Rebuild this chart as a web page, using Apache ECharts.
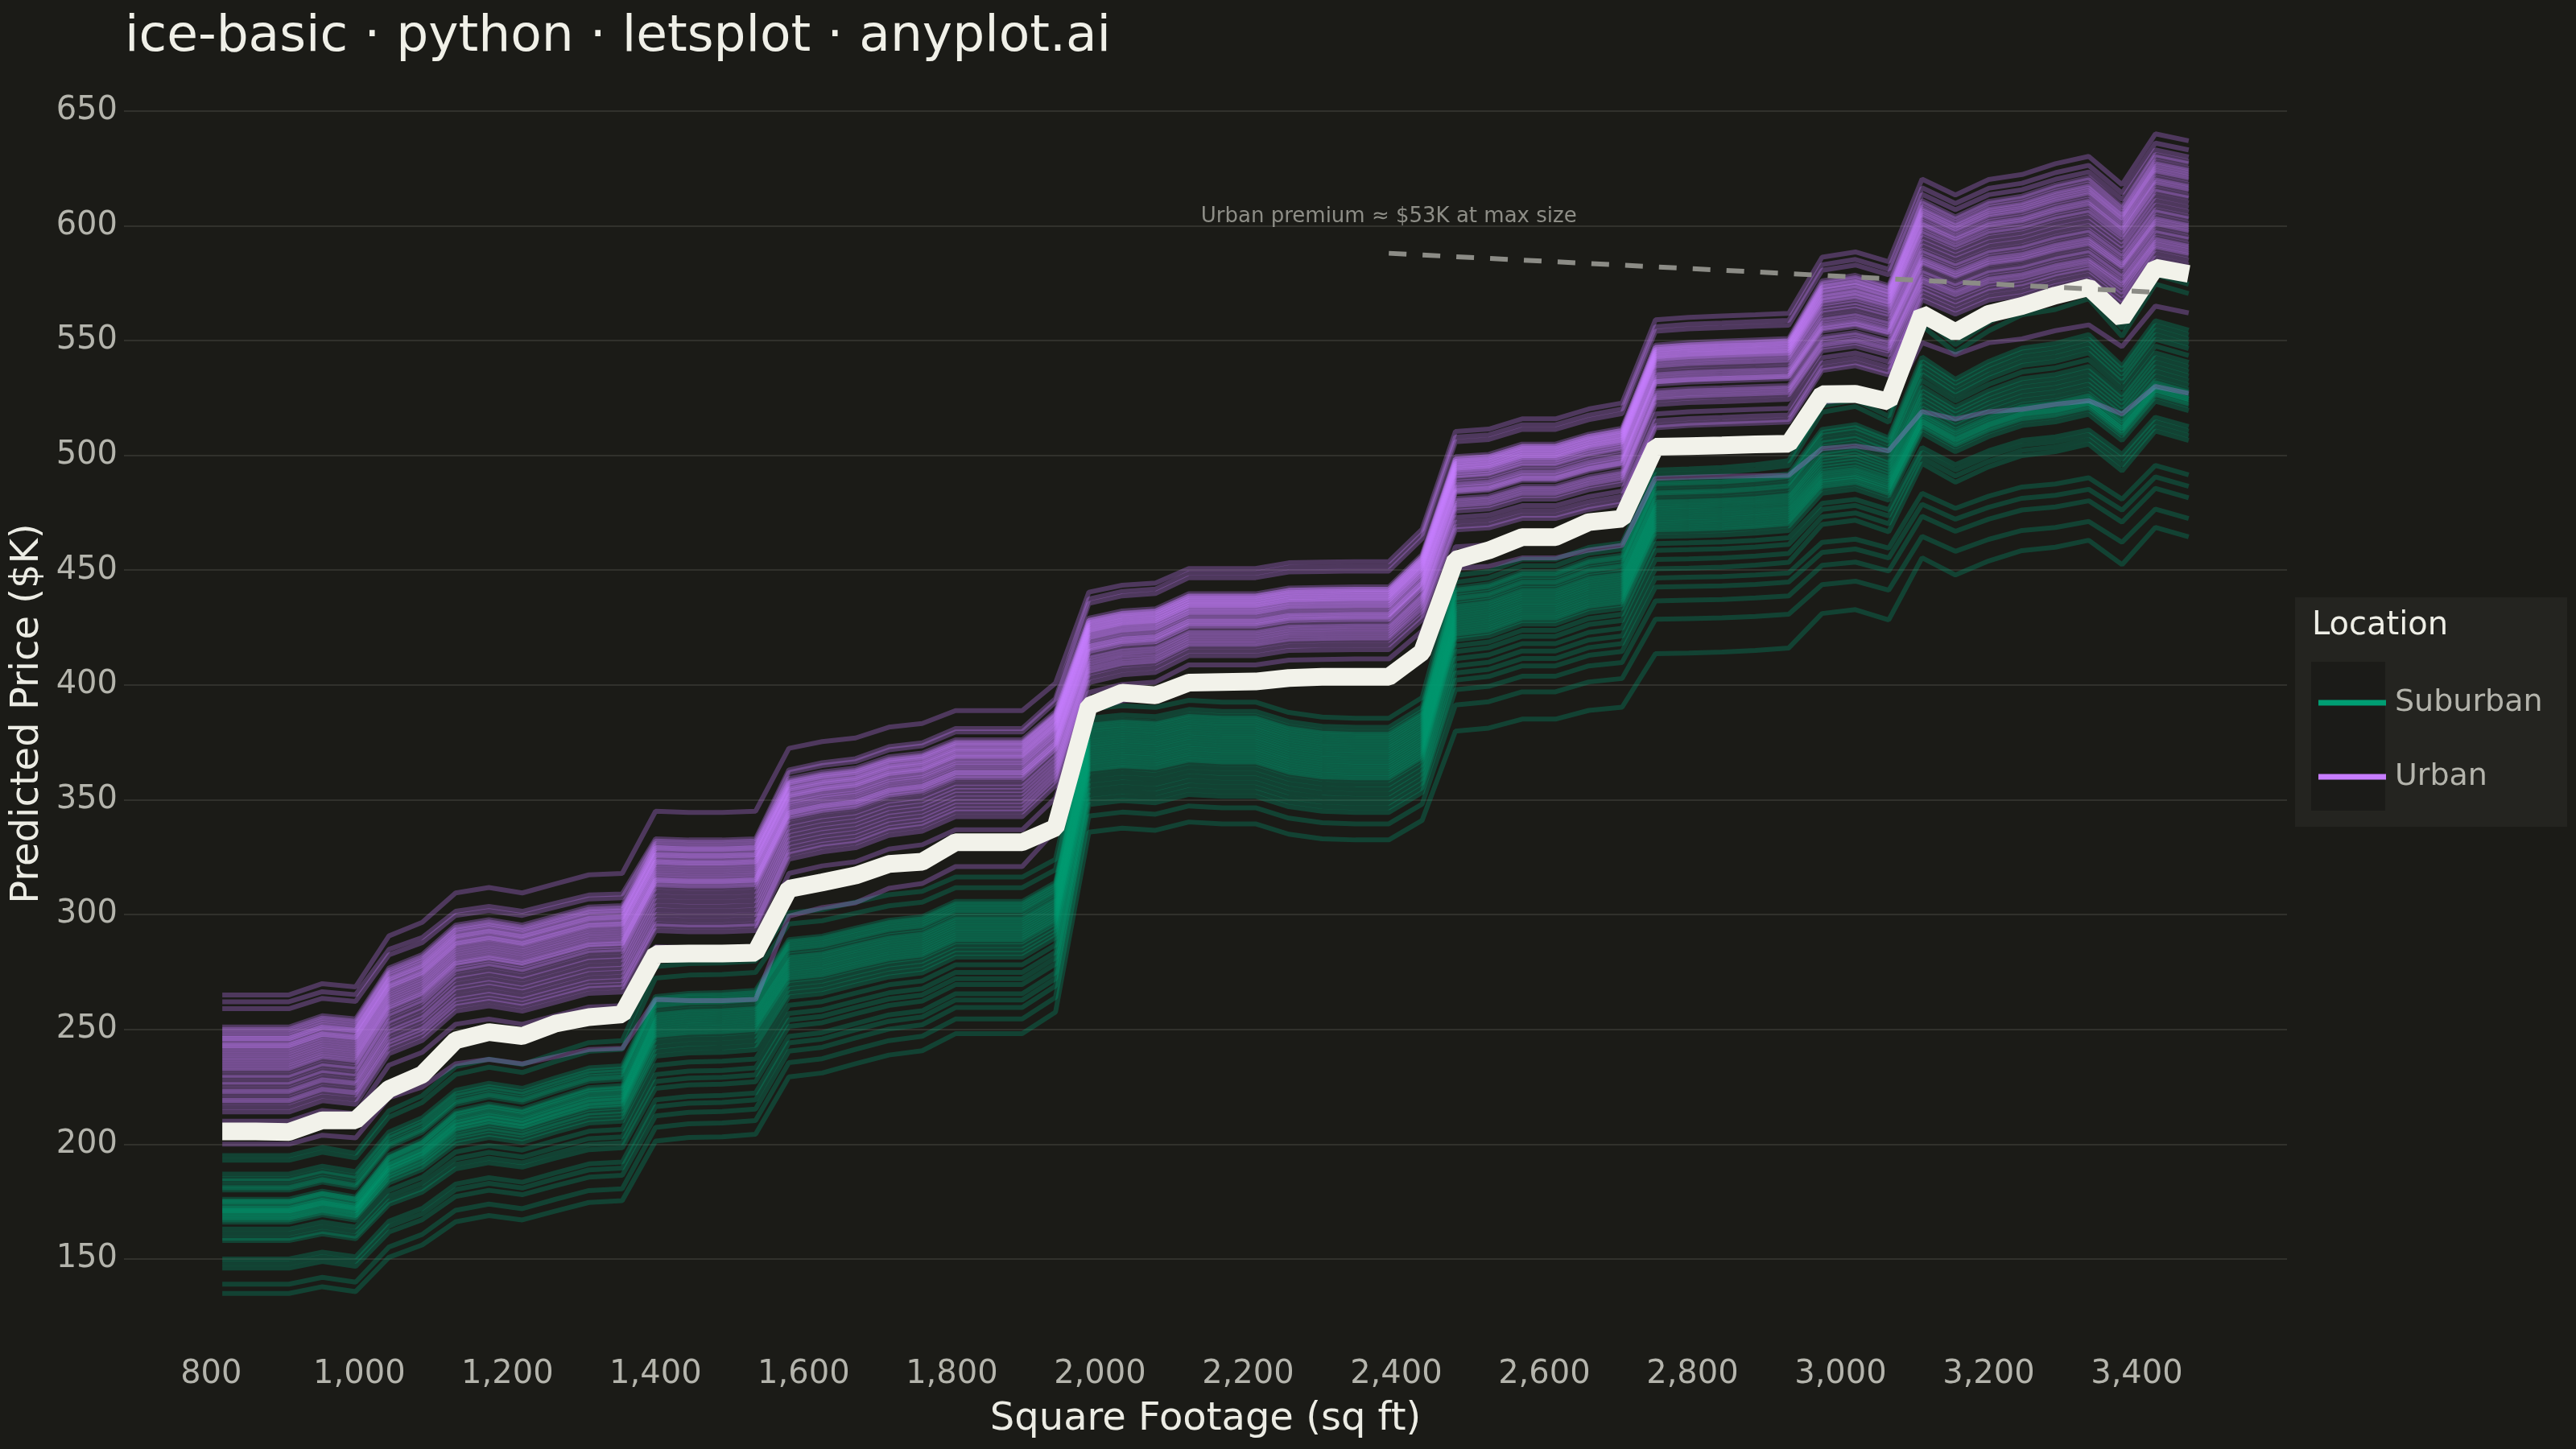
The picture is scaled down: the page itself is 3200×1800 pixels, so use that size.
<!DOCTYPE html>
<html>
<head>
<meta charset="utf-8">
<script src="https://cdn.jsdelivr.net/npm/echarts@6/dist/echarts.min.js"></script>
<style>
  html, body { margin: 0; padding: 0; background: #1b1b17; }
  #box { width: 3200px; height: 1800px; }
</style>
</head>
<body>
<div id="box"></div>
<script>
// grid of square footage values the model was evaluated on
var sqft = [815, 860, 905, 950, 995, 1040, 1085, 1130, 1175, 1220,
  1265, 1310, 1355, 1400, 1445, 1490, 1535, 1580, 1625, 1670,
  1715, 1760, 1805, 1850, 1895, 1940, 1985, 2030, 2075, 2120,
  2165, 2210, 2255, 2300, 2345, 2390, 2435, 2480, 2525, 2570,
  2615, 2660, 2705, 2750, 2795, 2840, 2885, 2930, 2975, 3020,
  3065, 3110, 3155, 3200, 3245, 3290, 3335, 3380, 3425, 3470];

// average (PD) curve, the thick white line
var pdAverage = [205.5, 205.5, 205.3, 210.4, 210.4, 224, 230.3, 245.2, 248.8, 247.1,
  252.5, 255.3, 256.5, 282.8, 283, 283, 283.4, 311.2, 314, 317,
  322, 323, 331.5, 331.5, 331.5, 337.8, 390.8, 396.6, 395.5, 401,
  401.3, 401.5, 403, 403.5, 403.5, 403.5, 414.3, 454.5, 458.6, 464.4,
  464.4, 470.9, 472.4, 503.7, 504, 504.3, 504.8, 505, 526.6, 526.8,
  523.4, 561.6, 553.6, 561.6, 565.1, 569.6, 573.2, 559.6, 581.7, 579];

// centre of the dense band of each group's ICE lines
var urbanCurve = [240, 240, 240, 245, 243.5, 266, 272, 285, 287.4, 285,
  289, 293, 293.6, 321, 320.5, 320.5, 321, 350, 353, 354.7,
  359.7, 361.4, 367.3, 367.3, 367.3, 380, 421.8, 425, 426, 432.7,
  432.7, 432.7, 435.2, 435.5, 435.7, 435.7, 450, 493, 494, 498.5,
  498.5, 502.8, 505.5, 542, 543, 543.5, 544, 544.5, 566.5, 568.6,
  564.7, 597, 590.8, 596.8, 598.8, 603, 605.9, 594.9, 615, 612];

var suburbanCurve = [172, 172, 172, 175.5, 173, 191, 197.5, 209.8, 213, 210.7,
  215.5, 220, 220.9, 252.3, 253.7, 254, 255, 277.5, 279, 282.6,
  286, 287.7, 294.4, 294.4, 294.4, 302.8, 373.3, 374.8, 374, 377.3,
  376.5, 376.5, 372, 370, 369.5, 369.5, 378.5, 432.2, 434, 439.3,
  439.3, 444.6, 446.5, 478.6, 479, 479.5, 480.5, 482, 502, 504.2,
  498.2, 534.4, 524.4, 532.5, 538.5, 540.5, 544.5, 530.4, 550.6, 546.5];

// each ICE line: distance from its group's band, read at these grid points
var anchorIdx = [0, 13, 30, 43, 59];   // 815, 1400, 2165, 2750, 3470 sq ft

var urbanOffsets = [
  [25, 24, 18, 17, 25], [22, 12, 16, 14, 21], [19, 11, 14, 12, 18],
  [11, 10, 7, 6, 16], [10, 9, 6, 5, 15], [9, 8, 6, 5, 13], [8, 8, 5, 4, 12],
  [7, 7, 5, 4, 11], [6, 6, 4, 3, 10], [6, 5, 4, 3, 9], [5, 5, 3, 2, 8],
  [4, 4, 3, 2, 6], [3, 3, 2, 1, 5], [3, 2, 2, 1, 4], [2, 2, 1, 0, 3],
  [1, 1, 1, 0, 1], [0, 0, 0, -1, 0], [-1, -1, -1, -2, -2], [-2, -2, -1, -3, -4],
  [-3, -3, -2, -4, -6], [-4, -4, -3, -6, -8], [-5, -5, -4, -7, -9],
  [-6, -6, -5, -8, -11], [-7, -6, -5, -9, -12], [-8, -7, -6, -10, -13],
  [-10, -8, -7, -10, -14], [-11, -9, -7, -11, -15],
  [-13, -11, -9, -14, -17], [-14, -13, -10, -15, -18], [-16, -15, -11, -16, -20],
  [-17, -17, -12, -17, -21], [-18, -19, -13, -18, -22], [-20, -21, -14, -20, -23],
  [-21, -23, -15, -24, -24], [-22, -25, -16, -27, -25], [-24, -26, -18, -29, -27],
  [-26, -28, -20, -30, -29],
  [-30, -35, -24, -40, -50], [-40, -58, -30, -52, -85]
];

var suburbanOffsets = [
  [23, 25, 16, 15, 28], [21, 20, 12, 13, 24],
  [15, 12, 10, 10, 8], [13, 11, 9, 9, 6], [12, 10, 8, 8, 4], [10, 9, 7, 6, 2],
  [9, 8, 6, 5, 0], [8, 7, 5, 4, -3],
  [4, 5, 4, 2, -6], [3, 4, 3, 1, -8], [3, 3, 2, 0, -10], [2, 2, 1, -1, -12],
  [1, 1, 0, -2, -14], [0, 0, -1, -3, -16], [0, -1, -2, -4, -18], [-1, -2, -3, -5, -19],
  [-1, -3, -4, -6, -20], [-2, -4, -5, -7, -21], [-2, -5, -6, -8, -22], [-3, -6, -7, -9, -22],
  [-4, -8, -8, -10, -23], [-4, -10, -9, -11, -24], [-5, -12, -10, -12, -25], [-6, -14, -11, -14, -27],
  [-9, -18, -13, -17, -34], [-11, -22, -15, -20, -36], [-13, -25, -17, -24, -38],
  [-14, -28, -19, -28, -40], [-22, -33, -21, -32, -55], [-24, -36, -23, -36, -60],
  [-26, -40, -25, -42, -65], [-33, -45, -30, -50, -74], [-37, -51, -37, -65, -82]
];

var xTicks = [800, 1000, 1200, 1400, 1600, 1800, 2000, 2200, 2400, 2600, 2800, 3000, 3200, 3400];
var yTicks = [150, 200, 250, 300, 350, 400, 450, 500, 550, 600, 650];

// dashed annotation segment and its note
var premiumX = [2390, 3425];
var premiumY = [588, 571];
var noteAt = [2390, 604];
var noteText = 'Urban premium \u2248 $53K at max size';

var green = '#009E73';
var purple = '#C77DFF';

function clamp(t) { return Math.max(0, Math.min(1, t)); }

// between two read anchors the offset moves along as the band itself rises,
// so flat steps of the band stay flat
function iceLine(curve, off) {
  return curve.map(function (c, k) {
    var j = 0;
    while (j < anchorIdx.length - 2 && k > anchorIdx[j + 1]) j++;
    var a = anchorIdx[j], b = anchorIdx[j + 1];
    var t = clamp((c - curve[a]) / (curve[b] - curve[a]));
    var o = off[j] + (off[j + 1] - off[j]) * t;
    return [sqft[k], +(c + o).toFixed(1)];
  });
}

function iceSeries(name, color, data) {
  return {
    type: 'line', name: name, data: data,
    symbol: 'none', silent: true, z: 2,
    itemStyle: { color: color },
    lineStyle: { color: color, width: 6, opacity: 0.3 }
  };
}

var series = [];
var n = Math.max(urbanOffsets.length, suburbanOffsets.length);
for (var i = 0; i < n; i++) {
  if (suburbanOffsets[i]) series.push(iceSeries('Suburban', green, iceLine(suburbanCurve, suburbanOffsets[i])));
  if (urbanOffsets[i]) series.push(iceSeries('Urban', purple, iceLine(urbanCurve, urbanOffsets[i])));
}

series.push({
  type: 'line', name: 'Average',
  data: sqft.map(function (x, k) { return [x, pdAverage[k]]; }),
  symbol: 'none', silent: true, z: 5,
  lineStyle: { color: '#f2f2ea', width: 22 }
});

series.push({
  type: 'line', name: 'Premium',
  data: premiumX.map(function (x, k) { return [x, premiumY[k]]; }),
  symbol: 'none', silent: true, z: 6,
  lineStyle: { color: '#8c8c86', width: 6, type: [22, 20] }
});

series.push({
  type: 'scatter', name: 'Note',
  data: [noteAt], symbolSize: 1, silent: true, z: 6,
  itemStyle: { color: 'rgba(0,0,0,0)' },
  label: {
    show: true, position: 'inside', formatter: noteText,
    color: '#aaaaa2', fontSize: 26
  }
});

var myChart = echarts.init(document.getElementById('box'));
var option = {
  backgroundColor: '#1b1b17',
  animation: false,
  textStyle: { fontFamily: 'DejaVu Sans' },
  title: {
    text: 'ice-basic \u00b7 python \u00b7 letsplot \u00b7 anyplot.ai',
    left: 150, top: 10,
    textStyle: { color: '#f0f0e8', fontSize: 63, fontWeight: 'normal' }
  },
  grid: { left: 154, top: 95, width: 2687, height: 1583 },
  xAxis: {
    type: 'value', min: 682.25, max: 3602.75,
    name: 'Square Footage (sq ft)', nameLocation: 'middle', nameGap: 62,
    nameTextStyle: { color: '#ecece4', fontSize: 48 },
    axisLine: { show: false },
    axisTick: { show: false, customValues: xTicks },
    splitLine: { show: false },
    axisLabel: {
      customValues: xTicks, color: '#b4b4ac', fontSize: 40, margin: 10,
      formatter: function (v) { return v.toLocaleString('en-US'); }
    }
  },
  yAxis: {
    type: 'value', min: 110, max: 665,
    name: 'Predicted Price ($K)', nameLocation: 'middle', nameGap: 94,
    nameTextStyle: { color: '#ecece4', fontSize: 48 },
    axisLine: { show: false },
    axisTick: { show: false, customValues: yTicks },
    splitLine: { show: true, lineStyle: { color: '#31312c', width: 2 } },
    axisLabel: { customValues: yTicks, color: '#b4b4ac', fontSize: 40, margin: 8 }
  },
  legend: {
    data: [
      { name: 'Suburban', itemStyle: { color: green, opacity: 1 }, lineStyle: { color: green, width: 7, opacity: 1 } },
      { name: 'Urban', itemStyle: { color: purple, opacity: 1 }, lineStyle: { color: purple, width: 7, opacity: 1 } }
    ],
    orient: 'vertical', left: 2875, top: 849, z: 10,
    icon: 'rect', itemWidth: 84, itemHeight: 7, itemGap: 54,
    selectedMode: false,
    textStyle: { color: '#b4b4ac', fontSize: 38, padding: [0, 0, 0, 6] }
  },
  graphic: [
    { type: 'rect', z: 0, shape: { x: 2851, y: 742, width: 338, height: 285 }, style: { fill: '#242420' } },
    { type: 'rect', z: 1, shape: { x: 2871, y: 822, width: 92, height: 185 }, style: { fill: '#1b1b18' } },
    { type: 'text', z: 1, x: 2872, y: 778, style: { text: 'Location', fill: '#eeeee6', fontSize: 40, fontFamily: 'DejaVu Sans', verticalAlign: 'middle' } }
  ],
  series: series
};
myChart.setOption(option);
</script>
</body>
</html>
